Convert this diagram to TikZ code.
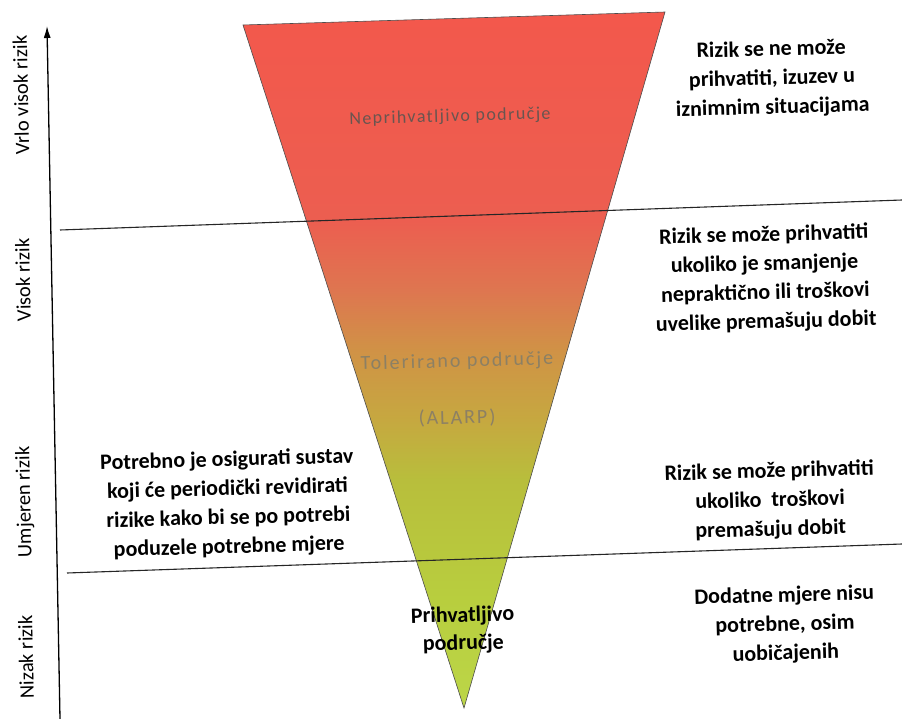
\documentclass[tikz,border=0pt]{standalone}
\usepackage{fontspec}
\setmainfont{Carlito}
\newfontfamily\spacedfont[LetterSpace=8]{Carlito}
\newfontfamily\widefont[LetterSpace=10]{Carlito}
\usetikzlibrary{arrows.meta}
\definecolor{g0}{RGB}{188,214,72}
\definecolor{g1}{RGB}{184,206,62}
\definecolor{g2}{RGB}{184,190,60}
\definecolor{g3}{RGB}{198,168,64}
\definecolor{g4}{RGB}{208,146,70}
\definecolor{g5}{RGB}{222,118,80}
\definecolor{g6}{RGB}{236,94,80}
\definecolor{g7}{RGB}{243,88,76}
\definecolor{toptext}{RGB}{105,85,80}
\definecolor{midtext}{RGB}{140,128,100}
\pgfdeclareverticalshading{riskgrad}{100bp}{color(0bp)=(g0); color(25bp)=(g0); color(32.8bp)=(g1); color(41.4bp)=(g2); color(45.7bp)=(g3); color(50.7bp)=(g4); color(55bp)=(g5); color(60bp)=(g6); color(75bp)=(g7); color(100bp)=(g7)}
\begin{document}
\begin{tikzpicture}[x=1pt,y=-1pt,
  rtext/.style={font=\bfseries\fontsize{22}{29}\selectfont, align=center, rotate=1.6, inner sep=0pt},
  axislabel/.style={font=\fontsize{20.5}{23}\selectfont, rotate=91.2, inner sep=0pt},
  hline/.style={line width=1.1pt, draw=black!85},
  zonetext/.style={inner sep=0pt, align=center, rotate=1.6},
]
\useasboundingbox[fill=white] (0,0) rectangle (902,719);
% triangle
\coordinate (tl) at (243,25);
\coordinate (tr) at (665,12);
\coordinate (ap) at (464,708);
\shade[shading=riskgrad] (tl) -- (tr) -- (ap) -- cycle;
\draw[black!70, line width=0.6pt] (tl) -- (tr) -- (ap) -- cycle;
% horizontal lines
\coordinate (l1a) at (60,230);
\coordinate (l1b) at (902,200);
\coordinate (l2a) at (67,573);
\coordinate (l2b) at (902,544);
\draw[hline] (l1a) -- (l1b);
\draw[hline] (l2a) -- (l2b);
% axis
\coordinate (axb) at (60,719);
\coordinate (axt) at (47,26);
\draw[line width=1.3pt, -{Latex[length=12pt,width=7pt]}] (axb) -- (axt);
% axis labels
\node[axislabel] (a1) at (21,95) {Vrlo visok rizik};
\node[axislabel] (a2) at (23,280) {Visok rizik};
\node[axislabel] (a3) at (25,502) {Umjeren rizik};
\node[axislabel] (a4) at (26,657) {Nizak rizik};
% zone texts
\node[zonetext, text=toptext, font=\spacedfont\fontsize{18}{20}\selectfont] (z1) at (450,117) {Neprihvatljivo područje};
\node[zonetext, text=midtext, font=\widefont\fontsize{20}{22}\selectfont] (z2) at (457,362) {Tolerirano područje};
\node[zonetext, text=midtext, font=\widefont\fontsize{20}{22}\selectfont] (z3) at (457,418) {(ALARP)};
\node[zonetext, font=\bfseries\fontsize{22}{28}\selectfont] (z4) at (463,630) {Prihvatljivo\\područje};
% right texts
\node[rtext] (t1) at (772,79) {Rizik se ne može\\prihvatiti, izuzev u\\iznimnim situacijama};
\node[rtext] (t2) at (765,279) {Rizik se može prihvatiti\\ukoliko je smanjenje\\nepraktično ili troškovi\\uvelike premašuju dobit};
\node[rtext] (t3) at (770,501) {Rizik se može prihvatiti\\ukoliko~~troškovi\\premašuju dobit};
\node[rtext] (t4) at (785,625) {Dodatne mjere nisu\\potrebne, osim\\uobičajenih};
% left text
\node[rtext] (t5) at (228,504) {Potrebno je osigurati sustav\\koji će periodički revidirati\\rizike kako bi se po potrebi\\poduzele potrebne mjere};
\end{tikzpicture}
\end{document}
